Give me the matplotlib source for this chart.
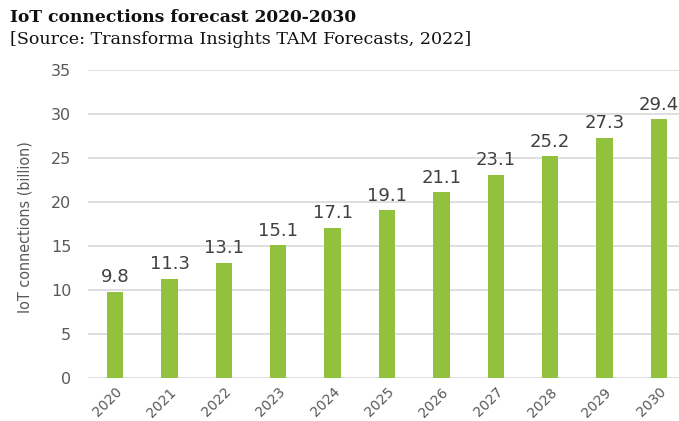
import matplotlib
matplotlib.use("Agg")
import matplotlib.pyplot as plt
import numpy as np

years = ["2020", "2021", "2022", "2023", "2024", "2025", "2026", "2027", "2028", "2029", "2030"]
connections = [9.8, 11.3, 13.1, 15.1, 17.1, 19.1, 21.1, 23.1, 25.2, 27.3, 29.4]
y_ticks = [0, 5, 10, 15, 20, 25, 30, 35]

bar_color = "#92C13E"
text_color = "#595959"

fig = plt.figure(figsize=(6.79, 4.21), dpi=100)
ax = fig.add_axes([88 / 679, 1 - 378 / 421, (686 - 88) / 679, (378 - 70) / 421])

x = np.arange(len(years))
bars = ax.bar(x, connections, width=0.3, color=bar_color, zorder=3)

for xi, v in zip(x, connections):
    ax.text(xi, v + 0.6, f"{v:.1f}", ha="center", va="bottom",
            fontsize=13, color="#404040", family="DejaVu Sans")

ax.set_xlim(-0.5, 10.5)
ax.set_ylim(0, 35)
ax.set_yticks(y_ticks)
ax.set_xticks(x)
ax.set_xticklabels(years, rotation=45, ha="right", rotation_mode="anchor")
ax.tick_params(axis="both", length=0, colors=text_color)
ax.tick_params(axis="y", pad=12, labelsize=11.5)
ax.tick_params(axis="x", pad=5, labelsize=10)
ax.yaxis.grid(True, color="#D9D9D9", linewidth=1.2, zorder=0)
for s in ax.spines.values():
    s.set_visible(False)

fig.text(25 / 679, 1 - 227 / 421, "IoT connections (billion)", rotation=90,
         ha="center", va="center", fontsize=11.5, color=text_color,
         family="DejaVu Sans", fontstretch="condensed")

fig.text(10 / 679, 1 - 18 / 421, "IoT connections forecast 2020-2030",
         ha="left", va="center", fontsize=12.3, fontweight="bold",
         family="DejaVu Serif", color="#111111")
fig.text(10 / 679, 1 - 40 / 421, "[Source: Transforma Insights TAM Forecasts, 2022]",
         ha="left", va="center", fontsize=12.6, family="DejaVu Serif", color="#111111")

fig.savefig("out.png", dpi=100)
